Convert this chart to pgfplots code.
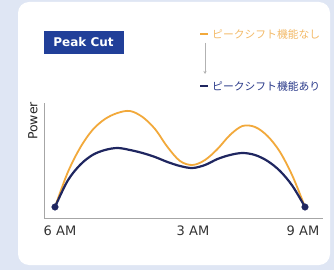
\documentclass[border=0pt]{standalone}
\usepackage{pgfplots}
\pgfplotsset{compat=1.18}
\usepackage{fontspec}
\setmainfont{DejaVu Sans}
\newfontfamily\jp{Noto Sans CJK JP}
\usetikzlibrary{arrows.meta}
\definecolor{bgblue}{HTML}{DFE6F4}
\definecolor{boxblue}{HTML}{213F99}
\definecolor{navy}{HTML}{1F2660}
\definecolor{orangeline}{HTML}{F2A93B}
\definecolor{orangetext}{HTML}{F3BA68}
\definecolor{navytext}{HTML}{2A3A8A}
\begin{document}
\begin{tikzpicture}[x=1pt,y=1pt]
% background (pixel px,py -> (px-44, 218-py))
\fill[bgblue] (-44,-52) rectangle (290,218);
\fill[white, rounded corners=11pt] (-26,-47) rectangle (286,216);
\begin{axis}[
  at={(0,0)}, anchor=south west,
  scale only axis, width=279pt, height=115pt,
  xmin=-0.44, xmax=10.72, ymin=0, ymax=115,
  axis lines*=left,
  axis line style={draw=gray!70, line width=0.8pt, -},
  ytick=\empty,
  xtick={0.2,5.52,9.92},
  xticklabels={6 AM,3 AM,9 AM},
  major tick length=0pt,
  xticklabel style={font=\fontsize{13}{15}\selectfont, text=black!80, yshift=-4.5pt},
  clip=false,
]
\addplot[orangeline, line width=1.8pt, smooth, tension=0.55] coordinates {
(0,11) (0.5,45) (1,70) (1.5,88) (2,99) (2.5,105) (3,107) (3.5,101) (4,89) (4.5,71) (5,57) (5.5,53) (6,58) (6.5,69) (7,83) (7.5,92) (8,91) (8.5,82) (9,66) (9.5,42) (10,11)};
\addplot[navy, line width=2.2pt, smooth, tension=0.55] coordinates {
(0,11) (0.5,37) (1,53) (1.5,63) (2,68) (2.5,70) (3,68) (3.5,65) (4,61) (4.5,56) (5,52) (5.5,50) (6,53) (6.5,59) (7,63) (7.5,65) (8,63) (8.5,57) (9,47) (9.5,32) (10,11)};
\addplot[only marks, mark=*, mark size=3.3pt, navy] coordinates {(0,11) (10,11)};
\end{axis}
% y label
\node[rotate=90, font=\fontsize{12.5}{14}\selectfont, text=black!85] at (-11,97) {Power};
% Peak Cut box
\node[fill=boxblue, text=white, font=\bfseries\fontsize{12}{14}\selectfont, minimum width=80pt, minimum height=23pt, inner sep=0pt] at (39.5,175.5) {Peak Cut};
% legend
\draw[orangeline, line width=1.6pt] (156,184) -- (164,184);
\node[anchor=west, inner sep=0pt, text=orangetext, font=\jp\fontsize{10.8}{12}\selectfont] at (168,184) {ピークシフト機能なし};
\draw[gray!60, line width=0.8pt, -{Stealth[length=3pt,width=3pt]}] (161,175) -- (161,144);
\draw[navy, line width=1.8pt] (156,132) -- (164,132);
\node[anchor=west, inner sep=0pt, text=navytext, font=\jp\fontsize{10.8}{12}\selectfont] at (168,132) {ピークシフト機能あり};
\end{tikzpicture}
\end{document}
